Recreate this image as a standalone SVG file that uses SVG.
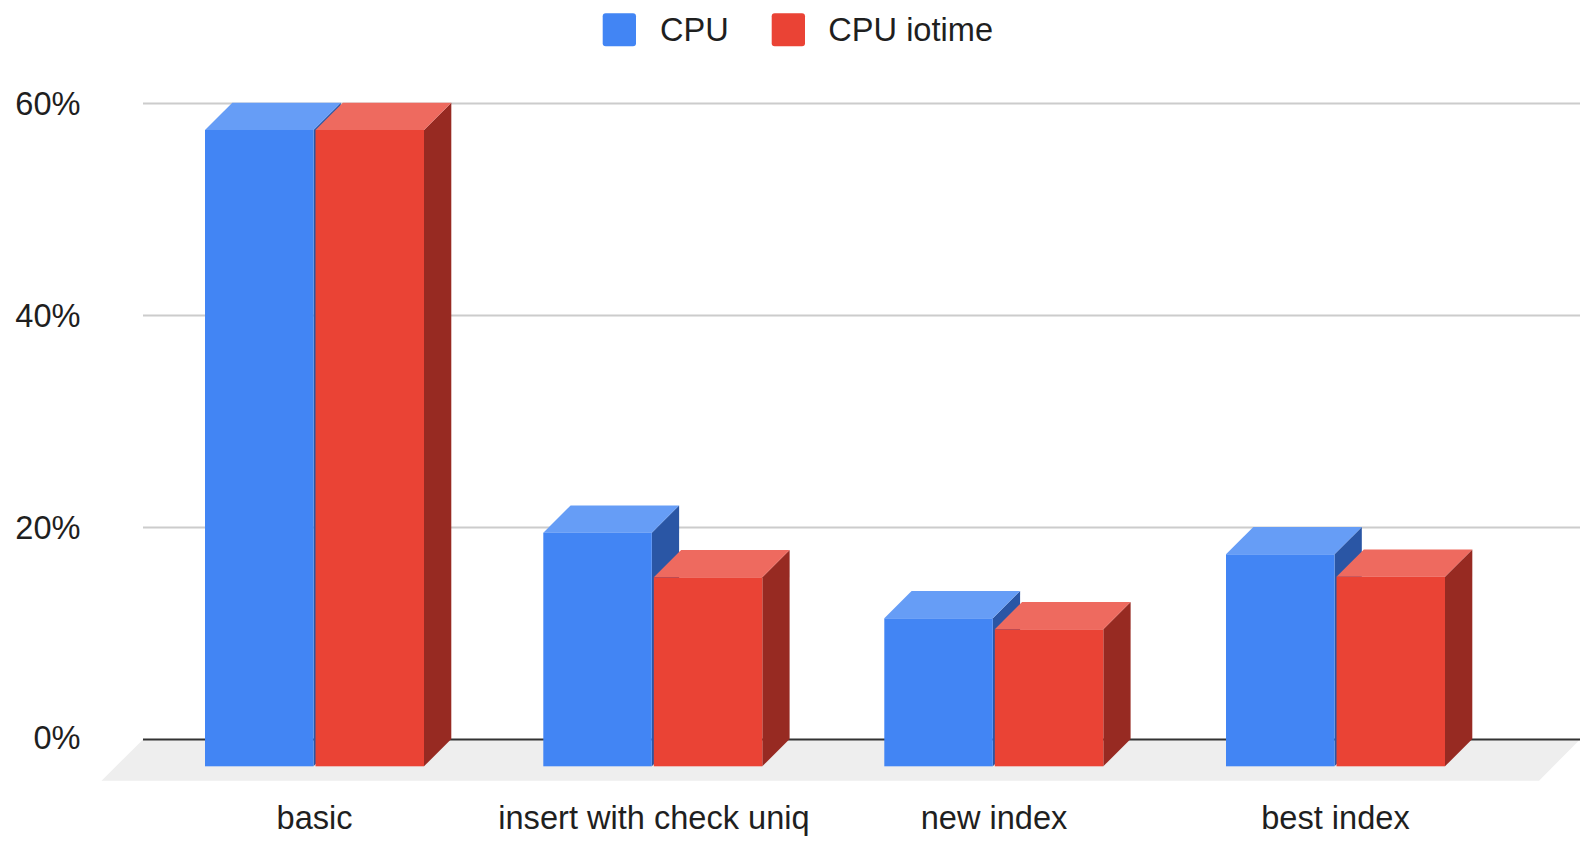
<svg xmlns="http://www.w3.org/2000/svg" width="1589" height="844" viewBox="0 0 1589 844">
<style>
text{font-family:"Liberation Sans",Arial,sans-serif;font-size:32.6px;fill:#1f1f1f}
.grid{stroke:#cccccc;stroke-width:2}
.base{stroke:#333333;stroke-width:2}
.bf{fill:#4285f4}.bt{fill:#669df6}.bs{fill:#2a56a5}
.rf{fill:#ea4335}.rt{fill:#ee6a5f}.rs{fill:#972a22}
.yl{text-anchor:end}.xl{text-anchor:middle}
</style>
<rect width="1589" height="844" fill="#ffffff"/>
<g id="legend">
<rect x="602.7" y="13.3" width="33.3" height="33" rx="3" class="bf"/>
<text x="660" y="41">CPU</text>
<rect x="771.7" y="13.3" width="33.3" height="33" rx="3" class="rf"/>
<text x="828.3" y="41">CPU iotime</text>
</g>
<g id="axes">
<polygon points="143,739.5 1580,739.5 1539,780.7 101.5,780.7" fill="#eeeeee"/>
<line class="grid" x1="143" y1="103.4" x2="1580" y2="103.4"/>
<line class="grid" x1="143" y1="315.5" x2="1580" y2="315.5"/>
<line class="grid" x1="143" y1="527.6" x2="1580" y2="527.6"/>
<line class="base" x1="143" y1="739.5" x2="1580" y2="739.5"/>
<text class="yl" x="80.5" y="115">60%</text>
<text class="yl" x="80.5" y="327">40%</text>
<text class="yl" x="80.5" y="539">20%</text>
<text class="yl" x="80.5" y="749">0%</text>
</g>
<g id="bar-basic">
<polygon class="bs" points="313.5,130 340.8,102.7 340.8,739 313.5,766.3"/>
<polygon class="bt" points="205,130 313.5,130 340.8,102.7 232.3,102.7"/>
<rect class="bf" x="205" y="130" width="108.5" height="636.3"/>
<polygon class="rs" points="424,130 451.3,102.7 451.3,739 424,766.3"/>
<polygon class="rt" points="315.5,130 424,130 451.3,102.7 342.8,102.7"/>
<rect class="rf" x="315.5" y="130" width="108.5" height="636.3"/>
<text class="xl" x="314.6" y="829">basic</text>
</g>
<g id="bar-insert">
<polygon class="bs" points="651.8,532.7 679.1,505.4 679.1,739 651.8,766.3"/>
<polygon class="bt" points="543.3,532.7 651.8,532.7 679.1,505.4 570.6,505.4"/>
<rect class="bf" x="543.3" y="532.7" width="108.5" height="233.6"/>
<polygon class="rs" points="762.3,577.3 789.6,550 789.6,739 762.3,766.3"/>
<polygon class="rt" points="653.8,577.3 762.3,577.3 789.6,550 681.1,550"/>
<rect class="rf" x="653.8" y="577.3" width="108.5" height="189"/>
<text class="xl" x="654" y="829">insert with check uniq</text>
</g>
<g id="bar-new">
<polygon class="bs" points="992.8,618.3 1020.1,591 1020.1,739 992.8,766.3"/>
<polygon class="bt" points="884.3,618.3 992.8,618.3 1020.1,591 911.6,591"/>
<rect class="bf" x="884.3" y="618.3" width="108.5" height="148"/>
<polygon class="rs" points="1103.3,629.3 1130.6,602 1130.6,739 1103.3,766.3"/>
<polygon class="rt" points="994.8,629.3 1103.3,629.3 1130.6,602 1022.1,602"/>
<rect class="rf" x="994.8" y="629.3" width="108.5" height="137"/>
<text class="xl" x="994" y="829">new index</text>
</g>
<g id="bar-best">
<polygon class="bs" points="1334.5,554.3 1361.8,527 1361.8,739 1334.5,766.3"/>
<polygon class="bt" points="1226,554.3 1334.5,554.3 1361.8,527 1253.3,527"/>
<rect class="bf" x="1226" y="554.3" width="108.5" height="212"/>
<polygon class="rs" points="1445,576.7 1472.3,549.4 1472.3,739 1445,766.3"/>
<polygon class="rt" points="1336.5,576.7 1445,576.7 1472.3,549.4 1363.8,549.4"/>
<rect class="rf" x="1336.5" y="576.7" width="108.5" height="189.6"/>
<text class="xl" x="1335.5" y="829">best index</text>
</g>
<g id="connectors"></g>
</svg>
